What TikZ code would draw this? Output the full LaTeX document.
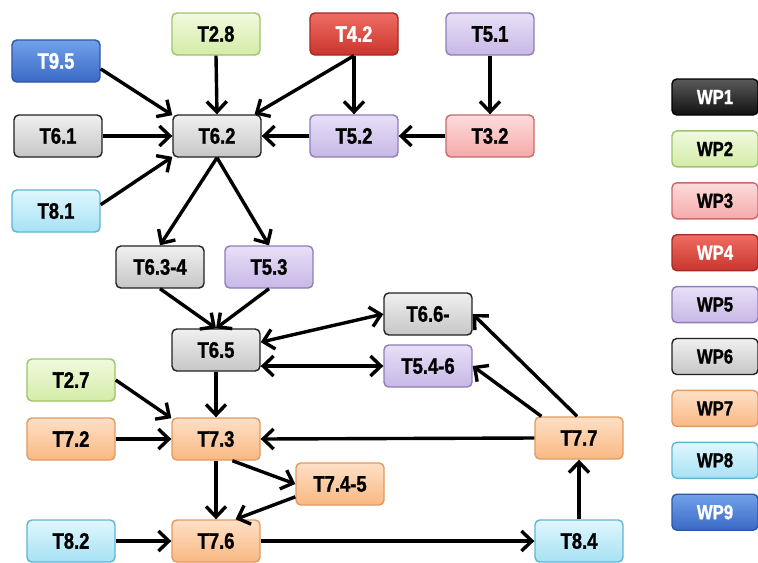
\documentclass[tikz,border=0pt]{standalone}
\usepackage{fontspec}
\newfontfamily\taskfont[FakeStretch=0.82,BoldFeatures={FakeBold=1.2}]{Liberation Sans}
\usetikzlibrary{arrows.meta}
% colori dei work package
\definecolor{wpAt}{HTML}{5A5A5A}\definecolor{wpAb}{HTML}{111111}\definecolor{wpAd}{HTML}{000000}
\definecolor{wpBt}{HTML}{F1FADF}\definecolor{wpBb}{HTML}{D3ECA6}\definecolor{wpBd}{HTML}{9CC46A}
\definecolor{wpCt}{HTML}{FDDCDC}\definecolor{wpCb}{HTML}{F5A9A9}\definecolor{wpCd}{HTML}{C86A6A}
\definecolor{wpDt}{HTML}{EF6D63}\definecolor{wpDb}{HTML}{C9352D}\definecolor{wpDd}{HTML}{A52A24}
\definecolor{wpEt}{HTML}{E8E0F7}\definecolor{wpEb}{HTML}{C7B7E6}\definecolor{wpEd}{HTML}{8F7DB8}
\definecolor{wpFt}{HTML}{F0F0F0}\definecolor{wpFb}{HTML}{C6C6C6}\definecolor{wpFd}{HTML}{222222}
\definecolor{wpGt}{HTML}{FEE0C6}\definecolor{wpGb}{HTML}{F9B883}\definecolor{wpGd}{HTML}{E39A5E}
\definecolor{wpHt}{HTML}{E0F7FE}\definecolor{wpHb}{HTML}{A6E1F4}\definecolor{wpHd}{HTML}{5FB6D4}
\definecolor{wpIt}{HTML}{72A1EA}\definecolor{wpIb}{HTML}{3A69C6}\definecolor{wpId}{HTML}{2C58A8}
\tikzset{
  task/.style={draw, rounded corners=1.2mm, line width=0.35mm,
    minimum width=22mm, minimum height=10.5mm, inner sep=0pt,
    font=\taskfont\bfseries\fontsize{16}{19}\selectfont},
  key/.style={task, minimum width=21.5mm, minimum height=9mm,
    font=\taskfont\bfseries\fontsize{14.5}{17}\selectfont},
  wp1/.style={top color=wpAt, bottom color=wpAb, draw=wpAd, text=white},
  wp2/.style={top color=wpBt, bottom color=wpBb, draw=wpBd},
  wp3/.style={top color=wpCt, bottom color=wpCb, draw=wpCd},
  wp4/.style={top color=wpDt, bottom color=wpDb, draw=wpDd, text=white},
  wp5/.style={top color=wpEt, bottom color=wpEb, draw=wpEd},
  wp6/.style={top color=wpFt, bottom color=wpFb, draw=wpFd},
  wp7/.style={top color=wpGt, bottom color=wpGb, draw=wpGd},
  wp8/.style={top color=wpHt, bottom color=wpHb, draw=wpHd},
  wp9/.style={top color=wpIt, bottom color=wpIb, draw=wpId, text=white},
  link/.style={line width=0.85mm, -{Straight Barb[length=2.6mm,width=5mm]}},
  twoway/.style={line width=0.85mm,
    {Straight Barb[length=2.6mm,width=5mm]}-{Straight Barb[length=2.6mm,width=5mm]}}
}

\begin{document}
\begin{tikzpicture}[x=0.25mm, y=-0.25mm]
  \useasboundingbox (0,0) rectangle (758,562);

  % --- attivita' in alto ----------------------------------------------------
  \node[task, wp9] (t95) at (56,61)   {T9.5};
  \node[task, wp2] (t28) at (216,34)  {T2.8};
  \node[task, wp4] (t42) at (354,34)  {T4.2};
  \node[task, wp5] (t51) at (490,34)  {T5.1};
  \node[task, wp6] (t61) at (58,136)  {T6.1};
  \node[task, wp6] (t62) at (217,136) {T6.2};
  \node[task, wp5] (t52) at (354,136) {T5.2};
  \node[task, wp3] (t32) at (490,136) {T3.2};
  \node[task, wp8] (t81) at (56,211)  {T8.1};

  % --- blocco centrale ------------------------------------------------------
  \node[task, wp6] (t634) at (160,267) {T6.3-4};
  \node[task, wp5] (t53)  at (269,267) {T5.3};
  \node[task, wp6] (t65)  at (216,350) {T6.5};
  \node[task, wp6] (t66)  at (428,314) {T6.6-};
  \node[task, wp5] (t546) at (428,366) {T5.4-6};

  % --- WP7 e dintorni -------------------------------------------------------
  \node[task, wp2] (t27)  at (71,380)  {T2.7};
  \node[task, wp7] (t72)  at (71,439)  {T7.2};
  \node[task, wp7] (t73)  at (216,439) {T7.3};
  \node[task, wp7] (t77)  at (579,438) {T7.7};
  \node[task, wp7] (t745) at (340,484) {T7.4-5};
  \node[task, wp8] (t82)  at (71,541)  {T8.2};
  \node[task, wp7] (t76)  at (216,541) {T7.6};
  \node[task, wp8] (t84)  at (579,541) {T8.4};

  % --- legenda --------------------------------------------------------------
  \foreach \k in {1,...,9}
    \node[key, wp\k] (wp\k) at (715,97+\k*51.9-51.9) {WP\k};

  % --- dipendenze -----------------------------------------------------------
  \draw[link] (t95.-10)   -- (t62.155);
  \draw[link] (t28.south) -- (t62.north);
  \draw[link] (t42.south) -- (t62.30);
  \draw[link] (t42.south) -- (t52.north);
  \draw[link] (t61.east)  -- (t62.west);
  \draw[link] (t81.8)     -- (t62.-155);
  \draw[link] (t52.west)  -- (t62.east);
  \draw[link] (t51.south) -- (t32.north);
  \draw[link] (t32.west)  -- (t52.east);
  \draw[link] (t62.south) -- (t634.north);
  \draw[link] (t62.south) -- (t53.north);
  \draw[link] (t634.south) -- (t65.north);
  \draw[link] (t53.south)  -- (t65.north);
  \draw[twoway] (t65.10) -- (t66.west);
  \draw[twoway] (t546.west -| t65.east) -- (t546.west);
  \draw[link] (t65.south) -- (t73.north);
  \draw[link] (t27.east)  -- (t73.155);
  \draw[link] (t72.east)  -- (t73.west);
  \draw[link] (t77.west)  -- (t73.east);
  \draw[link] (t73.-53)   -- (t745.west);
  \draw[link] (t73.south) -- (t76.north);
  \draw[link] (t745.196)  -- (t76.48);
  \draw[link] (t82.east)  -- (t76.west);
  \draw[link] (t76.east)  -- (t84.west);
  \draw[link] (t84.north) -- (t77.south);
  \draw[link] (t77.150)   -- (t546.east);
  \draw[link] (t77.95)    -- (t66.east);

\end{tikzpicture}
\end{document}
